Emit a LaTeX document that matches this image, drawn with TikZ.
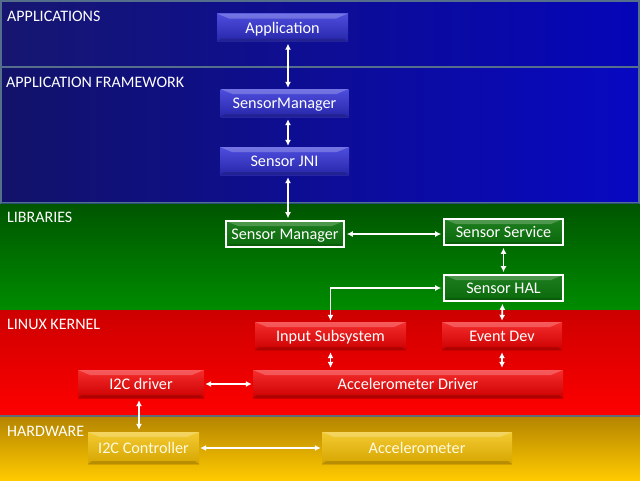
\documentclass[tikz,border=0pt]{standalone}
\usepackage{fontspec}
\setmainfont{Carlito}
\usetikzlibrary{arrows.meta}
\definecolor{bandedge}{RGB}{85,110,140}
\definecolor{hwedge}{RGB}{100,105,120}
\definecolor{libedge}{RGB}{40,80,120}
\definecolor{appL}{RGB}{22,22,112}\definecolor{appR}{RGB}{5,5,185}
\definecolor{fwL}{RGB}{18,18,105}\definecolor{fwR}{RGB}{8,8,195}
\definecolor{libT}{RGB}{0,85,0}\definecolor{libB}{RGB}{0,140,0}
\definecolor{kerT}{RGB}{205,0,0}\definecolor{kerB}{RGB}{255,0,0}
\definecolor{hwT}{RGB}{180,132,0}\definecolor{hwB}{RGB}{255,202,0}
\definecolor{blueT}{RGB}{78,78,222}\definecolor{blueB}{RGB}{38,38,170}
\definecolor{greenT}{RGB}{30,125,30}\definecolor{greenB}{RGB}{10,105,10}
\definecolor{redT}{RGB}{245,45,45}\definecolor{redB}{RGB}{205,0,0}
\definecolor{goldT}{RGB}{242,202,50}\definecolor{goldB}{RGB}{215,165,0}
\definecolor{goldtext}{RGB}{255,250,225}
\tikzset{
  bandtitle/.style={anchor=base west, text=white, font=\fontsize{16}{18}\selectfont, inner sep=0},
  bevel/.style={path picture={
     \fill[white,opacity=0.22] (path picture bounding box.north west) -- (path picture bounding box.north east)
        -- ([xshift=-12pt,yshift=-5pt]path picture bounding box.north east) -- ([xshift=12pt,yshift=-5pt]path picture bounding box.north west) -- cycle;
     \fill[black,opacity=0.15] (path picture bounding box.south west) -- (path picture bounding box.south east)
        -- ([xshift=-4pt,yshift=3pt]path picture bounding box.south east) -- ([xshift=4pt,yshift=3pt]path picture bounding box.south west) -- cycle;}},
  box/.style={inner sep=0, text=white, text depth=0pt, font=\fontsize{16.2}{18}\selectfont, bevel},
  bluebox/.style={box, top color=blueT, bottom color=blueB},
  greenbox/.style={box, top color=greenT, bottom color=greenB, draw=white, line width=1.6pt},
  redbox/.style={box, top color=redT, bottom color=redB},
  goldbox/.style={box, text=goldtext, top color=goldT, bottom color=goldB},
  arr/.style={draw=white, line width=1.7pt, {Latex[length=6pt,width=6pt]}-{Latex[length=6pt,width=6pt]}},
}
\begin{document}
\begin{tikzpicture}[x=1pt,y=-1pt]
\useasboundingbox (0,0) rectangle (640,480);
% bands
\fill[left color=appL, right color=appR] (0,0) rectangle (640,67);
\fill[left color=fwL, right color=fwR] (0,67) rectangle (640,203);
\fill[top color=libT, bottom color=libB] (0,203) rectangle (640,310);
\fill[top color=kerT, bottom color=kerB] (0,310) rectangle (640,416);
\fill[top color=hwT, bottom color=hwB] (0,416) rectangle (640,480);
\draw[color=bandedge, line width=2pt] (1,1) rectangle (639,67);
\draw[color=bandedge, line width=2pt] (1,67) rectangle (639,203);
\draw[color=libedge, line width=1pt] (1,203) -- (639,203);
\draw[color=hwedge, line width=1.6pt] (0,416) -- (640,416);
% titles
\node[bandtitle] (tapp) at (7,21) {APPLICATIONS};
\node[bandtitle] (tfw) at (6,87) {APPLICATION FRAMEWORK};
\node[bandtitle] (tlib) at (7,222) {LIBRARIES};
\node[bandtitle] (tker) at (7,329) {LINUX KERNEL};
\node[bandtitle] (thw) at (7,436) {HARDWARE};
% boxes
\node[bluebox, minimum width=131pt, minimum height=28pt] (app) at (282.5,27.5) {Application};
\node[bluebox, minimum width=128pt, minimum height=28pt] (sm) at (284.5,103) {SensorManager};
\node[bluebox, minimum width=129pt, minimum height=28pt] (jni) at (284.5,161) {Sensor JNI};
\node[greenbox, minimum width=118pt, minimum height=26pt] (lsm) at (285,234) {Sensor Manager};
\node[greenbox, minimum width=119pt, minimum height=26pt] (ss) at (503.5,232) {Sensor Service};
\node[greenbox, minimum width=119pt, minimum height=26pt] (hal) at (503.5,288) {Sensor HAL};
\node[redbox, minimum width=151pt, minimum height=28pt] (inp) at (330.5,336) {Input Subsystem};
\node[redbox, minimum width=120pt, minimum height=28pt] (ev) at (502,336) {Event Dev};
\node[redbox, minimum width=126pt, minimum height=28pt] (i2cd) at (141,384) {I2C driver};
\node[redbox, minimum width=310pt, minimum height=28pt] (acd) at (408,384) {Accelerometer Driver};
\node[goldbox, minimum width=111pt, minimum height=32pt] (i2cc) at (143.5,448) {I2C Controller};
\node[goldbox, minimum width=190pt, minimum height=32pt] (acc) at (417,448) {Accelerometer};
% connectors
\draw[arr] ([xshift=5.5pt,yshift=-2pt]app.south) -- ([xshift=3.5pt,yshift=1pt]sm.north);
\draw[arr] ([xshift=3.5pt,yshift=-2pt]sm.south) -- ([xshift=3.5pt,yshift=1pt]jni.north);
\draw[arr] ([xshift=3.5pt,yshift=-2pt]jni.south) -- ([xshift=3pt,yshift=2pt]lsm.north);
\draw[arr] ([xshift=2pt]lsm.east) -- ([xshift=-2pt]ss.west |- lsm.east);
\draw[arr] ([yshift=-2pt]ss.south) -- ([yshift=2pt]hal.north);
\draw[arr] ([yshift=1pt]inp.north) |- ([xshift=-2pt]hal.west);
\draw[arr] ([xshift=-1pt,yshift=-2pt]hal.south) -- ([yshift=1pt]ev.north);
\draw[arr] ([yshift=-2pt]inp.south) -- ([yshift=2pt]inp.south |- acd.north);
\draw[arr] ([yshift=-2pt]ev.south) -- ([yshift=2pt]ev.south |- acd.north);
\draw[arr] ([xshift=1pt]i2cd.east) -- ([xshift=-1pt]acd.west);
\draw[arr] ([xshift=-2pt,yshift=-2pt]i2cd.south) -- ([xshift=-4.5pt,yshift=2pt]i2cc.north);
\draw[arr] ([xshift=1pt]i2cc.east) -- ([xshift=-1pt]acc.west);
\end{tikzpicture}
\end{document}
